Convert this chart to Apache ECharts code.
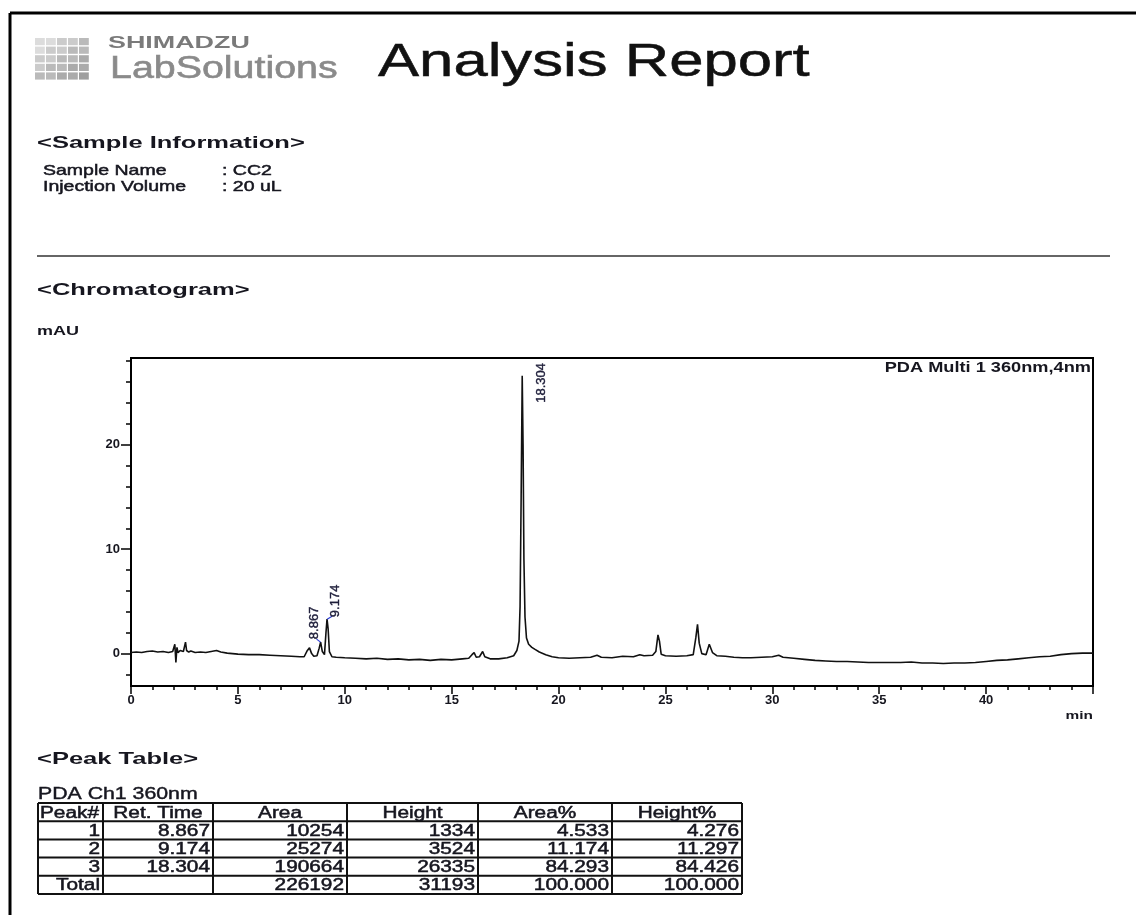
<!DOCTYPE html>
<html>
<head>
<meta charset="utf-8">
<title>Analysis Report</title>
<script src="https://cdn.jsdelivr.net/npm/echarts@6.0.0/dist/echarts.min.js"></script>
<style>
  html, body { margin: 0; padding: 0; background: #fff; }
  #report { width: 1136px; height: 915px; }
</style>
</head>
<body>
<div id="report"></div>
<script>
// chromatogram trace: time (min) and signal (mAU)
const traceTime = [
  0, 0.25, 0.5, 0.75, 1.0, 1.25, 1.5, 1.75, 1.95, 2.05, 2.1, 2.15, 2.2, 2.3, 2.45, 2.55, 2.6, 2.7, 2.8,
  3.0, 3.25, 3.5, 3.75, 4.0, 4.2, 4.5, 4.75, 5.0, 5.5, 6.0, 6.5, 7.0, 7.5, 7.9, 8.1, 8.25, 8.35, 8.45,
  8.55, 8.7, 8.8, 8.87, 8.95, 9.05, 9.12, 9.17, 9.22, 9.28, 9.4, 9.6, 10.0, 10.5, 11.0, 11.5, 12.0,
  12.5, 13.0, 13.5, 14.0, 14.5, 15.0, 15.5, 15.8, 15.95, 16.05, 16.15, 16.3, 16.45, 16.55, 16.8, 17.2,
  17.6, 17.9, 18.05, 18.15, 18.2, 18.25, 18.3, 18.34, 18.38, 18.43, 18.5, 18.6, 18.75, 18.9, 19.1, 19.4,
  19.7, 20.0, 20.5, 21.0, 21.5, 21.8, 22.0, 22.5, 23.0, 23.5, 23.8, 24.0, 24.4, 24.55, 24.65, 24.72,
  24.8, 25.0, 25.5, 26.0, 26.3, 26.42, 26.5, 26.58, 26.7, 26.9, 27.05, 27.12, 27.2, 27.4, 27.8, 28.2,
  28.6, 29.0, 29.5, 30.0, 30.3, 30.5, 31.0, 31.5, 32.0, 32.5, 33.0, 33.5, 34.0, 34.5, 35.0, 35.5, 36.0,
  36.5, 37.0, 37.5, 38.0, 38.5, 39.0, 39.5, 40.0, 40.5, 41.0, 41.5, 42.0, 42.5, 43.0, 43.5, 44.0, 44.5, 45.0
];
const traceMAU = [
  0.1, 0.15, 0.1, 0.2, 0.25, 0.15, 0.2, 0.1, 0.2, 0.9, -0.85, 0.6, 0.1, 0.3, 0.2, 1.1, 0.3, 0.15, 0.25,
  0.1, 0.15, 0.1, 0.2, 0.3, 0.15, 0.05, 0.0, -0.05, -0.1, -0.1, -0.15, -0.2, -0.25, -0.3, -0.3, 0.3, 0.55, 0.0,
  -0.25, -0.2, 0.5, 1.1, 0.2, -0.1, 2.0, 3.3, 2.4, 0.2, -0.3, -0.35, -0.4, -0.45, -0.5, -0.45, -0.55,
  -0.5, -0.6, -0.55, -0.65, -0.55, -0.6, -0.5, -0.45, -0.1, 0.1, -0.35, -0.3, 0.2, -0.3, -0.5, -0.5,
  -0.4, -0.2, 0.3, 1.2, 4.5, 15, 26.6, 20, 9, 3.5, 1.5, 0.9, 0.6, 0.4, 0.15, -0.1,
  -0.3, -0.4, -0.45, -0.4, -0.35, -0.15, -0.35, -0.4, -0.25, -0.3, -0.1, -0.2, -0.15, 0.2, 1.8, 1.2,
  -0.05, -0.2, -0.25, -0.2, -0.1, 1.5, 2.8, 1.0, 0.0, -0.1, 0.9, 1.0, 0.1, -0.2, -0.25, -0.35,
  -0.4, -0.4, -0.35, -0.3, -0.15, -0.35, -0.45, -0.55, -0.65, -0.7, -0.75, -0.75, -0.8, -0.85, -0.85, -0.85, -0.85,
  -0.8, -0.9, -0.9, -0.95, -0.9, -0.9, -0.85, -0.75, -0.65, -0.6, -0.5, -0.4, -0.3, -0.25, -0.1, 0.0, 0.05, 0.05
];

// integrated peaks (peak table)
const peakNo = ['1', '2', '3'];
const retTime = ['8.867', '9.174', '18.304'];
const peakArea = ['10254', '25274', '190664'];
const peakHeight = ['1334', '3524', '26335'];
const areaPct = ['4.533', '11.174', '84.293'];
const heightPct = ['4.276', '11.297', '84.426'];
const totalRow = ['Total', '', '226192', '31193', '100.000', '100.000'];
const tableHeader = ['Peak#', 'Ret. Time', 'Area', 'Height', 'Area%', 'Height%'];
const peakApex = [1.1, 3.3, 26.6]; // mAU at the peak tops, where the labels hang

// axis ticks
const xLabelValues = [0, 5, 10, 15, 20, 25, 30, 35, 40];
const yLabelValues = [0, 10, 20];
const yMinorValues = [-2, 0, 2, 4, 6, 8, 10, 12, 14, 16, 18, 20, 22, 24, 26, 28];

const FONT = '"Liberation Sans", Arial, sans-serif';
const INK = '#16161f';

var chartDom = document.getElementById('report');
var myChart = echarts.init(chartDom, null, { renderer: 'canvas' });

// plain text helper; the report is stretched sideways so most text gets scaleX
function txt(str, x, y, size, opts) {
  opts = opts || {};
  const align = opts.align || 'left';
  const color = opts.color || INK;
  return {
    type: 'text', x: x, y: y, scaleX: opts.sx || 1, silent: true,
    style: {
      text: str,
      font: (opts.bold ? 'bold ' : '') + size + 'px ' + FONT,
      fill: color,
      stroke: opts.heavy ? color : null, lineWidth: opts.heavy || 0,
      align: align, textAlign: align,
      verticalAlign: 'middle', textVerticalAlign: 'middle'
    }
  };
}
function line(x1, y1, x2, y2, w, color) {
  return { type: 'line', silent: true, shape: { x1: x1, y1: y1, x2: x2, y2: y2 },
    style: { stroke: color || '#000', lineWidth: w } };
}

const els = [];
// page frame
els.push(line(10, 13, 10, 915, 3));
els.push(line(10, 13, 1136, 13, 3));

// logo squares
const logoShades = ['#dcdcdc', '#cbcbcb', '#bababa', '#ababab', '#9e9e9e'];
for (let r = 0; r < 5; r++) {
  for (let c = 0; c < 5; c++) {
    els.push({ type: 'rect', silent: true, shape: { x: 35 + c * 11, y: 38 + r * 8.6, width: 9.8, height: 7.2 },
      style: { fill: logoShades[Math.min(4, Math.floor((r + c) / 2))] } });
  }
}
els.push(txt('SHIMADZU', 108, 44, 16, { bold: true, sx: 1.68, color: '#7a7a7a' }));
els.push(txt('LabSolutions', 110, 69, 32, { sx: 1.23, color: '#8a8a8a', heavy: 0.6 }));
els.push(txt('Analysis Report', 378, 63, 46, { sx: 1.34, color: '#111', heavy: 0.5 }));

els.push(txt('<Sample Information>', 37, 143, 17, { bold: true, sx: 1.5 }));
els.push(txt('Sample Name', 43, 171, 15, { sx: 1.3, heavy: 0.5 }));
els.push(txt(': CC2', 222, 171, 15, { sx: 1.3, heavy: 0.5 }));
els.push(txt('Injection Volume', 43, 187, 15, { sx: 1.3, heavy: 0.5 }));
els.push(txt(': 20 uL', 222, 187, 15, { sx: 1.3, heavy: 0.5 }));
els.push(line(37, 256, 1110, 256, 1.5, '#333'));

els.push(txt('<Chromatogram>', 37, 290, 17, { bold: true, sx: 1.5 }));
els.push(txt('mAU', 37, 332, 12, { bold: true, sx: 1.5 }));
els.push(txt('min', 1093, 716, 11, { bold: true, sx: 1.4, align: 'right' }));
els.push(txt('PDA Multi 1 360nm,4nm', 1091, 368, 14, { bold: true, sx: 1.3, align: 'right' }));

// peak table
els.push(txt('<Peak Table>', 37, 759, 17, { bold: true, sx: 1.5 }));
els.push(txt('PDA Ch1 360nm', 38, 795, 16, { sx: 1.33, heavy: 0.4 }));
const cols = [38, 103, 213, 347, 478, 612, 742];
const rowTop = 803, rowH = 18.2;
const bodyRows = peakNo.map((p, i) => [p, retTime[i], peakArea[i], peakHeight[i], areaPct[i], heightPct[i]]);
bodyRows.push(totalRow);
const nRows = bodyRows.length + 1;
for (let r = 0; r <= nRows; r++) els.push(line(cols[0], rowTop + r * rowH, cols[6], rowTop + r * rowH, 2, '#111'));
cols.forEach(cx => els.push(line(cx, rowTop, cx, rowTop + nRows * rowH, 2, '#111')));
tableHeader.forEach((h, c) => {
  if (c === 0) els.push(txt(h, cols[0] + 2, rowTop + rowH / 2 + 1, 16, { sx: 1.3, heavy: 0.5 }));
  else els.push(txt(h, (cols[c] + cols[c + 1]) / 2, rowTop + rowH / 2 + 1, 16, { sx: 1.3, align: 'center', heavy: 0.5 }));
});
bodyRows.forEach((row, r) => {
  row.forEach((v, c) => {
    if (v === '') return;
    els.push(txt(v, cols[c + 1] - 3, rowTop + rowH * (r + 1.5) + 1, 16, { sx: 1.3, align: 'right', heavy: 0.5 }));
  });
});

// where each peak's rotated label sits relative to its apex (px), and its blue leader
const labelOffsets = [
  { dx: -6, dy: -3, lx: -4, ly: -3 },
  { dx: 8, dy: -2, lx: 5, ly: -3 },
  { dx: 19, dy: 27, lx: 0, ly: 0 }
];

const axisColor = '#000';
option = {
  backgroundColor: '#fff',
  animation: false,
  grid: { left: 131, right: 43, top: 358, bottom: 229, show: true, borderColor: '#000', borderWidth: 2 },
  xAxis: {
    type: 'value', min: 0, max: 45, interval: 5,
    axisLine: { show: true, onZero: false, lineStyle: { color: axisColor, width: 2 } },
    axisTick: { show: true, length: 8, lineStyle: { color: axisColor, width: 1.5 } },
    minorTick: { show: true, splitNumber: 5, length: 4, lineStyle: { color: axisColor, width: 1.5 } },
    axisLabel: { customValues: xLabelValues, color: INK, fontSize: 13, fontWeight: 'bold', fontFamily: FONT, margin: 8 },
    splitLine: { show: false }, minorSplitLine: { show: false }
  },
  yAxis: [
    {
      type: 'value', min: -3.1, max: 28.3,
      axisLine: { show: true, onZero: false, lineStyle: { color: axisColor, width: 2 } },
      axisTick: { show: true, length: 10, customValues: yLabelValues, lineStyle: { color: axisColor, width: 1.5 } },
      axisLabel: { customValues: yLabelValues, color: INK, fontSize: 13, fontWeight: 'bold', fontFamily: FONT, margin: 11 },
      splitLine: { show: false }
    },
    {
      type: 'value', min: -3.1, max: 28.3, position: 'left',
      axisLine: { show: true, onZero: false, lineStyle: { color: axisColor, width: 2 } },
      axisTick: { show: true, length: 5, customValues: yMinorValues, lineStyle: { color: axisColor, width: 1.5 } },
      axisLabel: { show: false },
      splitLine: { show: false }
    }
  ],
  series: [
    {
      name: 'PDA Multi 1 360nm,4nm',
      type: 'line',
      data: traceTime.map((t, i) => [t, traceMAU[i]]),
      showSymbol: false,
      lineStyle: { color: '#111', width: 1.6 },
      z: 3
    },
    {
      name: 'peak labels',
      type: 'custom',
      data: retTime.map((t, i) => [Number(t), peakApex[i]]),
      renderItem: function (params, api) {
        const p = api.coord([api.value(0), api.value(1)]);
        const o = labelOffsets[params.dataIndex];
        const kids = [];
        if (o.lx || o.ly) {
          kids.push({ type: 'line', shape: { x1: p[0], y1: p[1], x2: p[0] + o.lx, y2: p[1] + o.ly },
            style: { stroke: '#2a3bd8', lineWidth: 1.2 } });
        }
        kids.push({ type: 'text', x: p[0] + o.dx, y: p[1] + o.dy, rotation: Math.PI / 2,
          style: { text: retTime[params.dataIndex], font: '13px ' + FONT, fill: '#1e1e3a',
            stroke: '#1e1e3a', lineWidth: 0.4,
            align: 'left', verticalAlign: 'middle', textAlign: 'left', textVerticalAlign: 'middle' } });
        return { type: 'group', children: kids };
      },
      z: 4
    }
  ],
  graphic: { elements: els }
};

option && myChart.setOption(option);
</script>
</body>
</html>
